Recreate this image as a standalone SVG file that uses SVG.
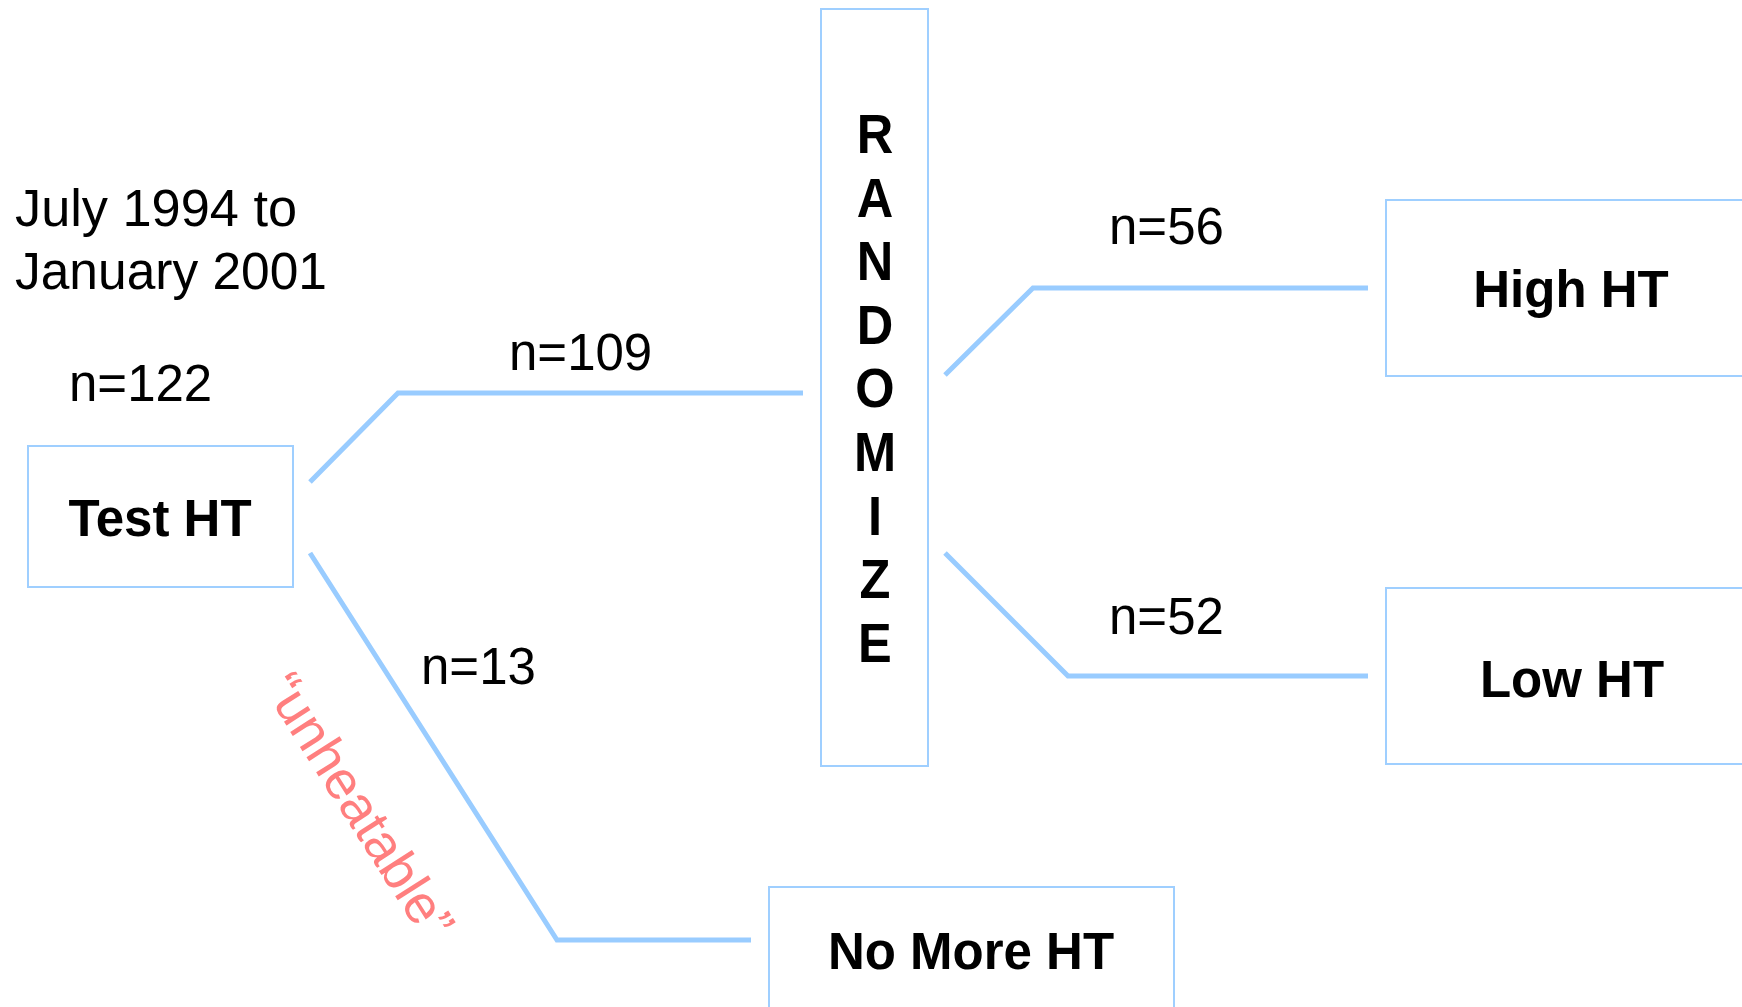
<svg xmlns="http://www.w3.org/2000/svg" width="1742" height="1007" viewBox="0 0 1742 1007">
<style>
.box{fill:#ffffff;stroke:#9fcfff;stroke-width:2}
.t{font-family:"Liberation Sans",Arial,sans-serif;font-size:51px;fill:#000}
.b{font-weight:bold}
.c{fill:none;stroke:#99ccff;stroke-width:5}
.red{font-family:"Liberation Sans",Arial,sans-serif;font-size:54px;fill:#ff7f7f}
</style>
<rect width="1742" height="1007" fill="#ffffff"/>
<g id="connectors">
<polyline class="c" points="310,482 398,393 803,393"/>
<polyline class="c" points="310,553 557,940 751,940"/>
<polyline class="c" points="945,375 1033,288 1368,288"/>
<polyline class="c" points="945,553 1068,676 1368,676"/>
</g>
<g id="labels">
<text class="t" x="15" y="226" textLength="282" lengthAdjust="spacingAndGlyphs">July 1994 to</text>
<text class="t" x="15" y="289" textLength="312" lengthAdjust="spacingAndGlyphs">January 2001</text>
<text class="t" x="69" y="401">n=122</text>
<text class="t" x="509" y="370">n=109</text>
<text class="t" x="421" y="684">n=13</text>
<text class="t" x="1109" y="244">n=56</text>
<text class="t" x="1109" y="634">n=52</text>
<text class="red" text-anchor="middle" transform="translate(344,816) rotate(57.5)">“unheatable”</text>
</g>
<g id="node-test">
<rect class="box" x="28" y="446" width="265" height="141"/>
<text class="t b" x="160" y="536" text-anchor="middle">Test HT</text>
</g>
<g id="node-randomize">
<rect class="box" x="821" y="9" width="107" height="757"/>
<g class="t b" text-anchor="middle" style="font-size:55px" transform="translate(875,0) scale(0.92,1)">
<text x="0" y="153">R</text>
<text x="0" y="217">A</text>
<text x="0" y="280">N</text>
<text x="0" y="344">D</text>
<text x="0" y="407">O</text>
<text x="0" y="471">M</text>
<text x="0" y="535">I</text>
<text x="0" y="598">Z</text>
<text x="0" y="662">E</text>
</g>
</g>
<g id="node-high">
<rect class="box" x="1386" y="200" width="380" height="176"/>
<text class="t b" x="1571" y="307" text-anchor="middle">High HT</text>
</g>
<g id="node-low">
<rect class="box" x="1386" y="588" width="380" height="176"/>
<text class="t b" x="1572" y="697" text-anchor="middle">Low HT</text>
</g>
<g id="node-nomore">
<rect class="box" x="769" y="887" width="405" height="140"/>
<text class="t b" x="971" y="969" text-anchor="middle">No More HT</text>
</g>
</svg>
